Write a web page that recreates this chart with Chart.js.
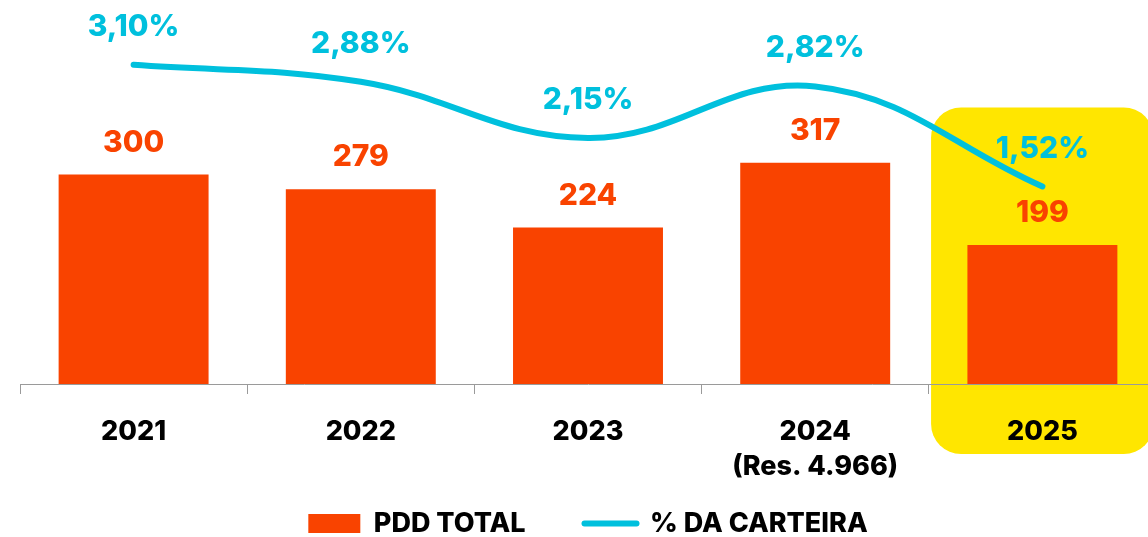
<!DOCTYPE html>
<html>
<head>
<meta charset="utf-8">
<script src="https://cdn.jsdelivr.net/npm/chart.js@4.4.0/dist/chart.umd.min.js"></script>
<style>
  html, body { margin: 0; padding: 0; background: #fff; overflow: hidden; }
  #wrap { width: 1156px; height: 537px; position: relative; }
</style>
</head>
<body>
<div id="wrap"><canvas id="chart"></canvas></div>
<script>
var anos = ['2021', '2022', '2023', ['2024', '(Res. 4.966)'], '2025'];
var pddTotal = [300, 279, 224, 317, 199];
var pctCarteira = [3.10, 2.88, 2.15, 2.82, 1.52];

var laranja = '#F94300';
var ciano = '#00C0DD';
var amarelo = '#FFE600';
var fonte = 'Inter, "Noto Sans", sans-serif';

// destaque amarelo atras do ultimo ano
var destaque = {
  id: 'destaque',
  beforeDraw: function(chart) {
    var ctx = chart.ctx;
    var x = chart.scales.x;
    var i = anos.length - 1;
    var meio = x.getPixelForValue(i);
    var larg = (x.getPixelForValue(1) - x.getPixelForValue(0)) * 0.49;
    var topo = chart.scales.y.getPixelForValue(396);
    var base = chart.chartArea.bottom + 70;
    ctx.save();
    ctx.fillStyle = amarelo;
    ctx.beginPath();
    ctx.roundRect(meio - larg, topo, larg * 2, base - topo, 30);
    ctx.fill();
    ctx.restore();
  }
};

// rotulos de valor
var rotulos = {
  id: 'rotulos',
  afterDatasetsDraw: function(chart) {
    var ctx = chart.ctx;
    ctx.save();
    ctx.font = '800 30px ' + fonte;
    ctx.textAlign = 'center';
    ctx.textBaseline = 'middle';
    chart.getDatasetMeta(1).data.forEach(function(bar, i) {
      ctx.fillStyle = laranja;
      ctx.fillText(pddTotal[i], bar.x, bar.y - 32);
    });
    chart.getDatasetMeta(0).data.forEach(function(pt, i) {
      ctx.fillStyle = ciano;
      ctx.fillText(pctCarteira[i].toFixed(2).replace('.', ',') + '%', pt.x, pt.y - 38);
    });
    ctx.restore();
  }
};

var ctx = document.getElementById('chart').getContext('2d');
var myChart = new Chart(ctx, {
  data: {
    labels: anos,
    datasets: [
      {
        type: 'line',
        label: '% DA CARTEIRA',
        data: pctCarteira,
        yAxisID: 'y2',
        borderColor: ciano,
        borderWidth: 6,
        borderCapStyle: 'round',
        tension: 0.4,
        pointRadius: 0,
        order: 0
      },
      {
        type: 'bar',
        label: 'PDD TOTAL',
        data: pddTotal,
        yAxisID: 'y',
        backgroundColor: laranja,
        barPercentage: 0.66,
        categoryPercentage: 1,
        order: 1
      }
    ]
  },
  options: {
    responsive: true,
    maintainAspectRatio: false,
    animation: false,
    layout: { padding: { left: 20, right: 0, top: 0, bottom: -10 } },
    scales: {
      x: {
        offset: true,
        grid: {
          offset: true,
          drawOnChartArea: false,
          tickLength: 10,
          color: '#9a9a9a'
        },
        border: { color: '#9a9a9a', width: 1 },
        ticks: {
          color: '#000',
          padding: 20,
          maxRotation: 0,
          autoSkip: false,
          font: { family: fonte, size: 27, weight: '800', lineHeight: 1.3 }
        },
        afterFit: function(scale) { scale.height = 100; }
      },
      y: {
        display: false,
        min: 0,
        max: 550
      },
      y2: {
        display: false,
        min: -1.045,
        max: 3.942
      }
    },
    plugins: {
      tooltip: { enabled: false },
      legend: {
        position: 'bottom',
        labels: {
          usePointStyle: true,
          pointStyleWidth: 52,
          boxHeight: 19,
          padding: 26,
          color: '#000',
          font: { family: fonte, size: 27, weight: '800' },
          generateLabels: function() {
            return [
              { text: 'PDD TOTAL\u2003 ', fillStyle: laranja, strokeStyle: laranja, lineWidth: 0, pointStyle: 'rect', datasetIndex: 1 },
              { text: '% DA CARTEIRA', fillStyle: ciano, strokeStyle: ciano, lineWidth: 6, lineCap: 'round', pointStyle: 'line', datasetIndex: 0 }
            ];
          }
        }
      }
    }
  },
  plugins: [destaque, rotulos]
});
</script>
</body>
</html>
